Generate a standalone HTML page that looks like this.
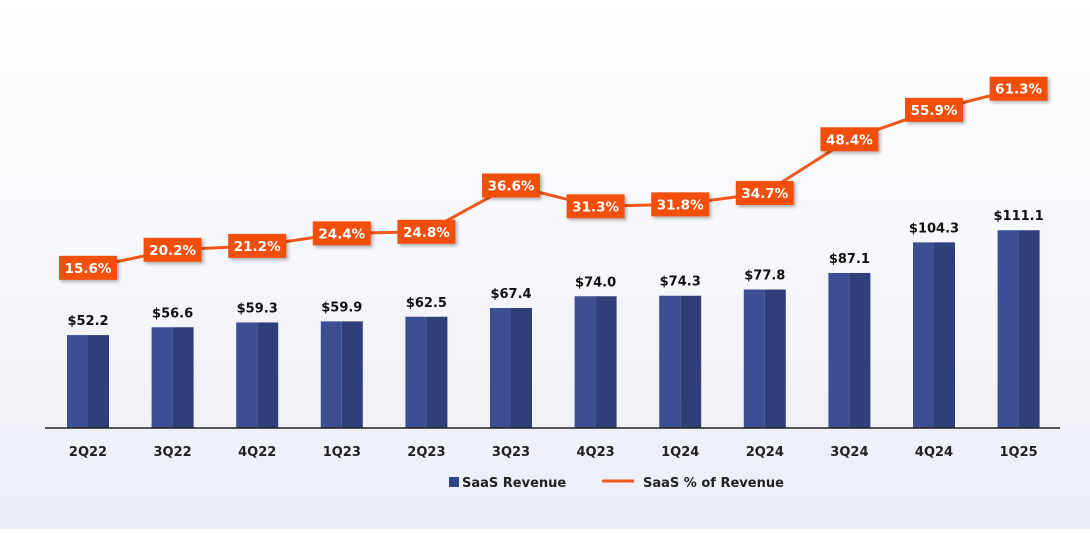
<!DOCTYPE html>
<html><head><meta charset="utf-8"><style>
body{margin:0;width:1090px;height:529px;overflow:hidden;background:linear-gradient(#ffffff,#eceef6);font-family:"Liberation Sans","DejaVu Sans",sans-serif}
svg text{font-family:"DejaVu Sans","Liberation Sans",sans-serif;font-weight:bold}
</style></head><body>
<svg width="1090" height="529">
<defs><filter id="sh" x="-20%" y="-20%" width="150%" height="160%"><feDropShadow dx="2" dy="2" stdDeviation="1.5" flood-color="#000" flood-opacity="0.3"/></filter></defs>
<g id="bars"></g><g id="line"></g>
<line x1="45" y1="428" x2="1060" y2="428" stroke="#222" stroke-width="1.5"/>
<g>
<rect x="449" y="477" width="10" height="10" fill="#34448a"/>
<text x="462" y="487" font-size="13" fill="#222">SaaS Revenue</text>
<line x1="602" y1="481" x2="634" y2="481" stroke="#f2561a" stroke-width="3"/>
<text x="643" y="487" font-size="13" fill="#222">SaaS % of Revenue</text>
</g>
</svg>
<script>
const categories=["2Q22","3Q22","4Q22","1Q23","2Q23","3Q23","4Q23","1Q24","2Q24","3Q24","4Q24","1Q25"];
const revenue=[52.2,56.6,59.3,59.9,62.5,67.4,74.0,74.3,77.8,87.1,104.3,111.1];
const pct=[15.6,20.2,21.2,24.4,24.8,36.6,31.3,31.8,34.7,48.4,55.9,61.3];
const NS="http://www.w3.org/2000/svg";
const x=i=>88+i*84.6;
const yb=v=>428-v*1.78;
const yp=v=>329-v*3.92;
const bars=document.getElementById('bars'),line=document.getElementById('line');
function mk(t,a,p){const e=document.createElementNS(NS,t);for(const k in a)e.setAttribute(k,a[k]);p.appendChild(e);return e;}
categories.forEach((c,i)=>{
 const g=mk('g',{},bars);
 
 
 const top=yb(revenue[i]);
 mk('rect',{x:x(i)-21,y:top,width:21,height:428-top,fill:'#3d4f93'},g);
 mk('rect',{x:x(i),y:top,width:21,height:428-top,fill:'#303f7a'},g);
 const v=mk('text',{x:x(i),y:top-10,'text-anchor':'middle','font-size':13,fill:'#111'},g);v.textContent='$'+revenue[i].toFixed(1);
 
 
 const l=mk('text',{x:x(i),y:456,'text-anchor':'middle','font-size':13,fill:'#222'},bars);l.textContent=c;
 
 
});
const pl=mk('polyline',{points:pct.map((v,i)=>x(i)+','+yp(v)).join(' '),fill:'none',stroke:'#f2561a','stroke-width':3},line);


pct.forEach((v,i)=>{
 const g=mk('g',{},line);
 
 
 mk('rect',{x:x(i)-29,y:yp(v)-12,width:58,height:24,fill:'#f2500f',filter:'url(#sh)'},g);
 const t=mk('text',{x:x(i),y:yp(v)+5,'text-anchor':'middle','font-size':13.5,fill:'#fff'},g);t.textContent=v.toFixed(1)+'%';
});
</script>
</body></html>
